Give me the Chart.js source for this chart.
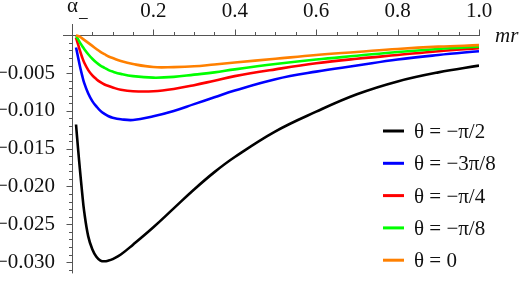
<!DOCTYPE html>
<html>
<head>
<meta charset="utf-8">
<script src="https://cdn.jsdelivr.net/npm/chart.js@4.4.1/dist/chart.umd.min.js"></script>
<style>
  body { margin: 0; background: #fff; }
  #wrap { width: 524px; height: 286px; }
</style>
</head>
<body>
<div id="wrap"><canvas id="alphaChart" width="524" height="286"></canvas></div>
<script>
// ---------------------------
// - data -
// ---------------------------
const mr = [0.01, 0.015, 0.02, 0.025, 0.03, 0.04, 0.05, 0.06, 0.07, 0.08, 0.09, 0.1,
            0.12, 0.15, 0.2, 0.25, 0.3, 0.35, 0.4, 0.5, 0.6, 0.7, 0.8, 0.9, 1.0];

const thetaLabels = ['θ = −π/2', 'θ = −3π/8', 'θ = −π/4', 'θ = −π/8', 'θ = 0'];
const thetaColors = ['#000000', '#0000ff', '#ff0000', '#00ff00', '#ff8000'];

const alphaHalfPi = [-0.0118, -0.0150, -0.0180, -0.0208, -0.0233, -0.0266, -0.0283, -0.0293, -0.0298, -0.0299,
                     -0.0298, -0.0296, -0.0290, -0.0277, -0.0254, -0.0229, -0.0204, -0.0181, -0.0161, -0.0127,
                     -0.0101, -0.0078, -0.0061, -0.0049, -0.0040];
const alpha3PiOver8 = [-0.0016, -0.0029, -0.0042, -0.0053, -0.0063, -0.0077, -0.0087, -0.0094, -0.0100, -0.0104,
                       -0.0107, -0.0109, -0.0111, -0.0112, -0.0107, -0.0100, -0.0091, -0.0082, -0.0073, -0.0058,
                       -0.0048, -0.0040, -0.0032, -0.0026, -0.0021];
const alphaQuarterPi = [-0.0003, -0.0012, -0.0021, -0.0029, -0.0036, -0.0046, -0.0053, -0.0058, -0.0062, -0.0065,
                        -0.0067, -0.0069, -0.0072, -0.0074, -0.0074, -0.0071, -0.0066, -0.0060, -0.0054, -0.0045,
                        -0.0037, -0.0031, -0.0026, -0.0021, -0.0017];
const alphaEighthPi = [-0.0001, -0.0005, -0.0010, -0.0014, -0.0018, -0.0025, -0.0031, -0.0036, -0.0040, -0.0043,
                       -0.0046, -0.0048, -0.0051, -0.0054, -0.0056, -0.0055, -0.0052, -0.0049, -0.0045, -0.0038,
                       -0.0032, -0.0027, -0.0022, -0.0018, -0.0015];
const alphaZero = [0.0000, -0.0001, -0.0002, -0.0004, -0.0006, -0.0010, -0.0014, -0.0018, -0.0022, -0.0025,
                   -0.0028, -0.0030, -0.0034, -0.0038, -0.0042, -0.0042, -0.0041, -0.00385, -0.0036, -0.0031,
                   -0.0026, -0.0022, -0.0018, -0.0015, -0.0013];

const xTicks = [0.2, 0.4, 0.6, 0.8, 1.0];
const yTicks = [-0.005, -0.010, -0.015, -0.020, -0.025, -0.030];

const allSeries = [alphaHalfPi, alpha3PiOver8, alphaQuarterPi, alphaEighthPi, alphaZero];

// ------------
// - styling  -
// ------------
const SERIF = "'Liberation Serif', 'Times New Roman', serif";
const FONT_SIZE = 21;

// Mathematica-like axes crossing at the origin, plus labels and legend
const mmaAxes = {
    id: 'mmaAxes',
    beforeDatasetsDraw(chart) {
        const { ctx, chartArea: a, scales: { x, y } } = chart;
        const x0 = Math.round(x.getPixelForValue(0)) + 0.5;
        const y0 = Math.round(y.getPixelForValue(0)) + 0.5;
        ctx.save();
        ctx.strokeStyle = '#555';
        ctx.lineWidth = 1;
        ctx.beginPath();
        ctx.moveTo(a.left, y0); ctx.lineTo(a.right + 1, y0);
        ctx.moveTo(x0, a.top); ctx.lineTo(x0, a.bottom);
        // x ticks every 0.05, major at the labelled ones
        for (let k = 1; k <= 20; k++) {
            const px = Math.round(x.getPixelForValue(k * 0.05)) + 0.5;
            const len = (k % 4 === 0) ? 6 : 3.5;
            ctx.moveTo(px, y0); ctx.lineTo(px, y0 - len);
        }
        // y ticks every 0.001, major every 0.005
        for (let k = 1; k <= 31; k++) {
            const py = Math.round(y.getPixelForValue(-k * 0.001)) + 0.5;
            const len = (k % 5 === 0) ? 6 : 3.5;
            ctx.moveTo(x0, py); ctx.lineTo(x0 - len, py);
        }
        ctx.stroke();
        ctx.restore();
    },
    afterDraw(chart) {
        const { ctx, chartArea: a, scales: { x, y } } = chart;
        const x0 = x.getPixelForValue(0);
        const y0 = y.getPixelForValue(0);
        ctx.save();
        ctx.fillStyle = '#111';
        // y-axis label: alpha with subscript minus
        ctx.font = FONT_SIZE + 'px ' + SERIF;
        ctx.textAlign = 'left';
        ctx.textBaseline = 'alphabetic';
        ctx.fillText('α', x0 - 5, 12);
        ctx.font = '19px ' + SERIF;
        ctx.fillText('−', x0 + 6, 25);
        // x-axis label
        ctx.font = 'italic ' + FONT_SIZE + 'px ' + SERIF;
        ctx.fillText('mr', a.right + 16, y0 + 7);

        // legend
        const lx = 383, ly = 131, step = 32.3;
        chart.data.datasets.forEach((ds, i) => {
            const yy = ly + i * step;
            ctx.strokeStyle = ds.borderColor;
            ctx.lineWidth = 3;
            ctx.beginPath();
            ctx.moveTo(lx, yy); ctx.lineTo(lx + 21, yy);
            ctx.stroke();
            ctx.fillStyle = '#111';
            ctx.font = FONT_SIZE + 'px ' + SERIF;
            ctx.fillText(ds.label, lx + 31, yy + 7);
        });
        ctx.restore();
    }
};

const datasets = allSeries.map((vals, i) => ({
    label: thetaLabels[i],
    data: mr.map((m, j) => ({ x: m, y: vals[j] })),
    borderColor: thetaColors[i],
    borderWidth: 2.6,
    pointRadius: 0,
    fill: false,
    tension: 0.4,
    order: allSeries.length - 1 - i
}));

const fmtMinus = v => (v < 0 ? '−' : '') + Math.abs(v).toFixed(3);

new Chart(document.getElementById('alphaChart'), {
    type: 'line',
    data: { datasets },
    options: {
        responsive: false,
        animation: false,
        devicePixelRatio: 1,
        layout: { padding: { left: 0, right: 45, top: 0, bottom: 3 } },
        plugins: { legend: { display: false }, tooltip: { enabled: false } },
        scales: {
            x: {
                type: 'linear',
                position: 'top',
                min: -0.022,
                max: 1.0,
                afterBuildTicks: s => { s.ticks = xTicks.map(v => ({ value: v })); },
                afterFit: s => { s.height = 24; },
                grid: { display: false },
                border: { display: false },
                ticks: {
                    padding: -8,
                    color: '#111',
                    font: { family: SERIF, size: FONT_SIZE },
                    maxRotation: 0,
                    callback: v => v.toFixed(1)
                }
            },
            y: {
                type: 'linear',
                position: 'left',
                min: -0.0315,
                max: 0.0015,
                afterBuildTicks: s => { s.ticks = yTicks.map(v => ({ value: v })); },
                afterFit: s => { s.width = 63; },
                grid: { display: false },
                border: { display: false },
                ticks: {
                    padding: 0,
                    color: '#111',
                    font: { family: SERIF, size: FONT_SIZE },
                    callback: v => fmtMinus(v)
                }
            }
        }
    },
    plugins: [mmaAxes]
});
</script>
</body>
</html>
